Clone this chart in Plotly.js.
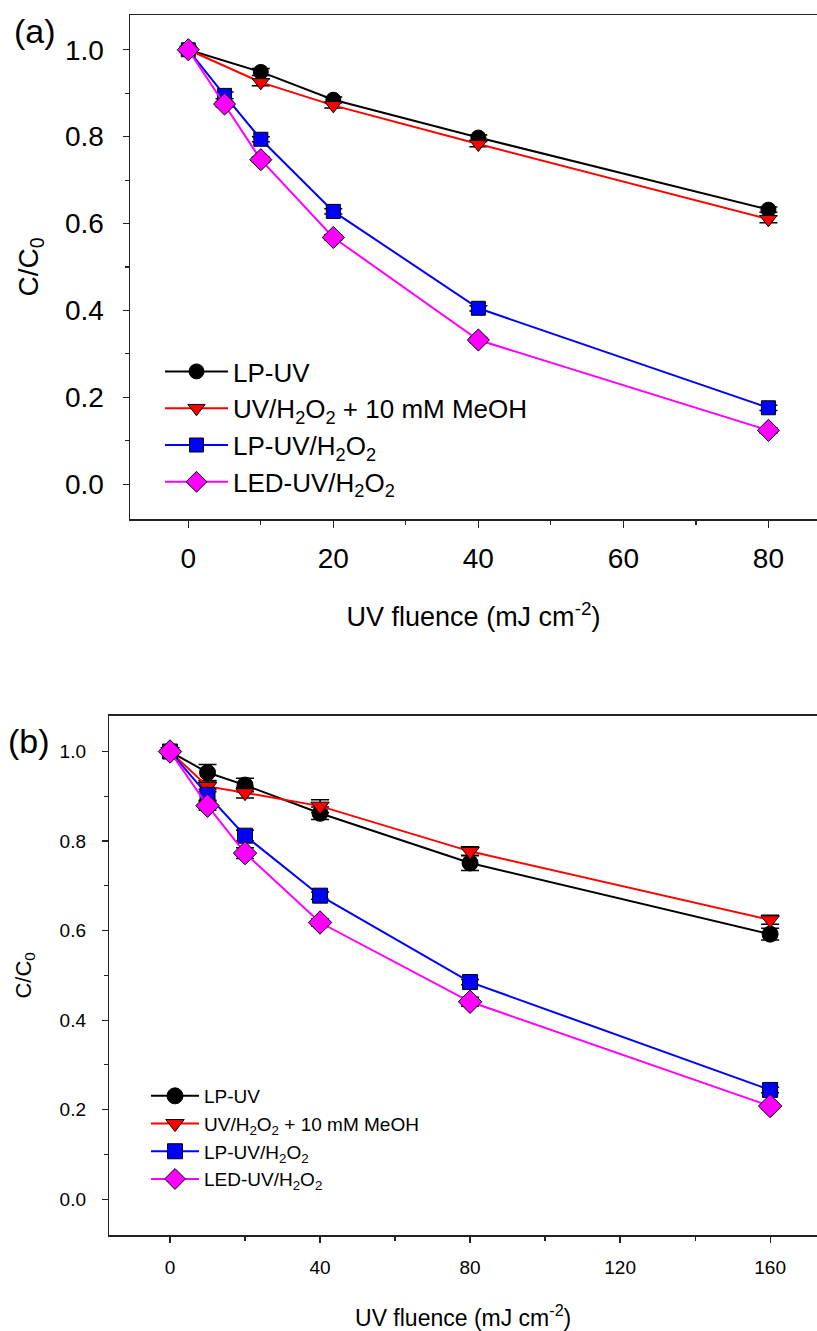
<!DOCTYPE html>
<html>
<head>
<meta charset="utf-8">
<script src="https://cdn.plot.ly/plotly-3.0.1.min.js"></script>
<style>
html,body{margin:0;padding:0;background:#fff;}
#chart{width:817px;height:1331px;}
</style>
</head>
<body>
<div id="chart"></div>
<script>
// ---------- Panel (a) data ----------
var xA_short = [0, 10, 20, 40, 80];
var xA_long = [0, 5, 10, 20, 40, 80];
var lpuvA = [1.0, 0.949, 0.885, 0.798, 0.632];
var lpuvA_err = [0.004, 0.008, 0.006, 0.006, 0.006];
var meohA = [1.0, 0.925, 0.872, 0.783, 0.610];
var meohA_err = [0.004, 0.008, 0.006, 0.006, 0.008];
var lph2o2A = [1.0, 0.895, 0.794, 0.628, 0.405, 0.176];
var lph2o2A_err = [0.004, 0.008, 0.006, 0.006, 0.006, 0.006];
var ledA = [1.0, 0.875, 0.747, 0.568, 0.332, 0.124];
var ledA_err = [0.004, 0.006, 0.006, 0.006, 0.006, 0.006];

// ---------- Panel (b) data ----------
var xB = [0, 10, 20, 40, 80, 160];
var lpuvB = [1.0, 0.953, 0.925, 0.862, 0.751, 0.592];
var lpuvB_err = [0.005, 0.018, 0.015, 0.014, 0.017, 0.013];
var meohB = [1.0, 0.922, 0.908, 0.878, 0.777, 0.624];
var meohB_err = [0.005, 0.012, 0.012, 0.014, 0.010, 0.010];
var lph2o2B = [1.0, 0.903, 0.812, 0.678, 0.485, 0.244];
var lph2o2B_err = [0.004, 0.012, 0.012, 0.008, 0.006, 0.006];
var ledB = [1.0, 0.879, 0.773, 0.618, 0.441, 0.208];
var ledB_err = [0.004, 0.010, 0.012, 0.008, 0.010, 0.006];

var names = ['LP-UV', 'UV/H<sub>2</sub>O<sub>2</sub> + 10 mM MeOH', 'LP-UV/H<sub>2</sub>O<sub>2</sub>', 'LED-UV/H<sub>2</sub>O<sub>2</sub>'];
var colors = ['#000000', '#ff0000', '#0000ff', '#ff00ff'];
var symbols = ['circle', 'triangle-down', 'square', 'diamond'];
var sizesA = [15, 15, 14, 17];
var sizesB = [16, 16, 15, 18];

var xAxisTicksA = [0, 20, 40, 60, 80];
var xAxisTicksB = [0, 40, 80, 120, 160];

var FONT = 'Liberation Sans, Arial, sans-serif';

function mk(i, x, y, err, xa, ya, leg, sizes) {
  return {
    x: x, y: y, type: 'scatter', mode: 'lines+markers', name: names[i],
    xaxis: xa, yaxis: ya, legend: leg,
    line: {color: colors[i], width: 2},
    marker: {symbol: symbols[i], size: sizes[i], color: colors[i], line: {color: '#000', width: 1}},
    error_y: {type: 'data', array: err, visible: true, color: '#000', thickness: 1.5, width: 9}
  };
}

var data = [
  mk(0, xA_short, lpuvA, lpuvA_err, 'x', 'y', 'legend', sizesA),
  mk(1, xA_short, meohA, meohA_err, 'x', 'y', 'legend', sizesA),
  mk(2, xA_long, lph2o2A, lph2o2A_err, 'x', 'y', 'legend', sizesA),
  mk(3, xA_long, ledA, ledA_err, 'x', 'y', 'legend', sizesA),
  mk(0, xB, lpuvB, lpuvB_err, 'x2', 'y2', 'legend2', sizesB),
  mk(1, xB, meohB, meohB_err, 'x2', 'y2', 'legend2', sizesB),
  mk(2, xB, lph2o2B, lph2o2B_err, 'x2', 'y2', 'legend2', sizesB),
  mk(3, xB, ledB, ledB_err, 'x2', 'y2', 'legend2', sizesB)
];

var axisCommon = {
  showgrid: false, zeroline: false, showline: true, linecolor: '#222', linewidth: 1.5,
  ticks: 'outside', tickcolor: '#222', tickwidth: 1.2
};

var layout = {
  width: 817, height: 1331,
  margin: {l: 0, r: 0, t: 0, b: 0},
  paper_bgcolor: '#fff', plot_bgcolor: '#fff',
  font: {family: FONT, color: '#000'},
  showlegend: true,
  xaxis: Object.assign({}, axisCommon, {
    domain: [130/817, 1], range: [-8.04, 86.7], anchor: 'y',
    tickvals: xAxisTicksA, ticklen: 7, mirror: true,
    minor: {dtick: 10, ticklen: 4, ticks: 'outside', tickcolor: '#222'},
    tickfont: {size: 28, family: FONT}, ticklabelstandoff: 7,
    title: {text: 'UV fluence (mJ cm<sup>-2</sup>)', font: {size: 27, family: FONT}, standoff: 34}
  }),
  yaxis: Object.assign({}, axisCommon, {
    domain: [1 - 519/1331, 1 - 15/1331], range: [-0.08, 1.08], anchor: 'x',
    dtick: 0.2, tick0: 0, tickformat: '.1f', ticklen: 6,
    minor: {dtick: 0.1, ticklen: 4, ticks: 'outside', tickcolor: '#222'},
    tickfont: {size: 28, family: FONT}, ticklabelstandoff: 13,
    title: {text: 'C/C<sub>0</sub>', font: {size: 28, family: FONT}, standoff: 18}
  }),
  xaxis2: Object.assign({}, axisCommon, {
    domain: [109.3/817, 1], range: [-16.19, 172.5], anchor: 'y2',
    tickvals: xAxisTicksB, ticklen: 6, mirror: true,
    minor: {dtick: 20, ticklen: 4, ticks: 'outside', tickcolor: '#222'},
    tickfont: {size: 19, family: FONT}, ticklabelstandoff: 9,
    title: {text: 'UV fluence (mJ cm<sup>-2</sup>)', font: {size: 23, family: FONT}, standoff: 35}
  }),
  yaxis2: Object.assign({}, axisCommon, {
    domain: [1 - 1235/1331, 1 - 715.7/1331], range: [-0.08, 1.08], anchor: 'x2',
    dtick: 0.2, tick0: 0, tickformat: '.1f', ticklen: 6,
    minor: {dtick: 0.1, ticklen: 4, ticks: 'outside', tickcolor: '#222'},
    tickfont: {size: 19, family: FONT}, ticklabelstandoff: 12,
    title: {text: 'C/C<sub>0</sub>', font: {size: 22, family: FONT}, standoff: 22}
  }),
  legend: {
    x: 160/817, xanchor: 'left', y: 1 - 348/1331, yanchor: 'top',
    bgcolor: 'rgba(0,0,0,0)', borderwidth: 0, itemwidth: 63,
    font: {size: 26, family: FONT}, tracegroupgap: 0
  },
  legend2: {
    x: 146/817, xanchor: 'left', y: 1 - 1077/1331, yanchor: 'top',
    bgcolor: 'rgba(0,0,0,0)', borderwidth: 0, itemwidth: 48,
    font: {size: 19, family: FONT}, tracegroupgap: 0
  },
  annotations: [
    {text: '(a)', xref: 'paper', yref: 'paper', x: 12/817, y: 1 - 31/1331, xanchor: 'left', yanchor: 'middle', showarrow: false, font: {size: 34, family: FONT}},
    {text: '(b)', xref: 'paper', yref: 'paper', x: 6/817, y: 1 - 741/1331, xanchor: 'left', yanchor: 'middle', showarrow: false, font: {size: 34, family: FONT}}
  ]
};

Plotly.newPlot('chart', data, layout, {staticPlot: true});
</script>
</body>
</html>
